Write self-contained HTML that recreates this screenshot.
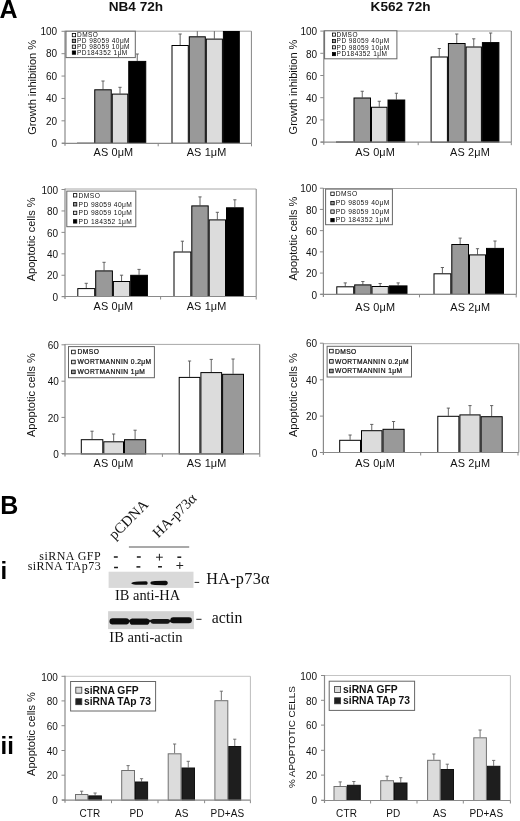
<!DOCTYPE html><html><head><meta charset="utf-8"><style>html,body{margin:0;padding:0;background:#fff;width:520px;height:821px;overflow:hidden;}svg{display:block;filter:blur(0.3px);}</style></head><body><svg width="520" height="821" viewBox="0 0 520 821" font-family='"Liberation Sans", sans-serif'>
<defs><filter id="bl" x="-20%" y="-50%" width="140%" height="200%"><feGaussianBlur stdDeviation="0.8"/></filter><filter id="bl2" x="-20%" y="-20%" width="140%" height="140%"><feGaussianBlur stdDeviation="0.5"/></filter></defs>
<rect width="520" height="821" fill="#fff"/>
<text x="-0.6" y="17.6" font-size="25" font-weight="bold" fill="#000">A</text>
<text x="135.9" y="11.1" font-size="13.6" font-weight="bold" text-anchor="middle" fill="#111">NB4 72h</text>
<text x="400.6" y="11.1" font-size="13.6" letter-spacing="0.05" font-weight="bold" text-anchor="middle" fill="#111">K562 72h</text>
<line x1="65" y1="31.2" x2="251.4" y2="31.2" stroke="#a8a8a8" stroke-width="1"/>
<line x1="251.4" y1="31.2" x2="251.4" y2="143.3" stroke="#848484" stroke-width="1"/>
<rect x="77.50" y="143.20" width="16.25" height="0.10" fill="#ffffff" stroke="#000" stroke-width="1"/>
<line x1="103.00" y1="89.30" x2="103.00" y2="81.00" stroke="#555555" stroke-width="0.9"/>
<line x1="101.40" y1="81.00" x2="104.60" y2="81.00" stroke="#555555" stroke-width="0.9"/>
<rect x="94.75" y="89.80" width="16.50" height="53.50" fill="#999999" stroke="#000" stroke-width="1"/>
<line x1="120.00" y1="93.60" x2="120.00" y2="87.30" stroke="#555555" stroke-width="0.9"/>
<line x1="118.40" y1="87.30" x2="121.60" y2="87.30" stroke="#555555" stroke-width="0.9"/>
<rect x="112.25" y="94.10" width="15.50" height="49.20" fill="#dcdcdc" stroke="#000" stroke-width="1"/>
<line x1="137.25" y1="60.90" x2="137.25" y2="54.00" stroke="#555555" stroke-width="0.9"/>
<line x1="135.65" y1="54.00" x2="138.85" y2="54.00" stroke="#555555" stroke-width="0.9"/>
<rect x="128.75" y="61.40" width="17.00" height="81.90" fill="#000000" stroke="#000" stroke-width="1"/>
<line x1="180.15" y1="45.00" x2="180.15" y2="34.00" stroke="#555555" stroke-width="0.9"/>
<line x1="178.55" y1="34.00" x2="181.75" y2="34.00" stroke="#555555" stroke-width="0.9"/>
<rect x="172.00" y="45.50" width="16.30" height="97.80" fill="#ffffff" stroke="#000" stroke-width="1"/>
<line x1="197.30" y1="36.30" x2="197.30" y2="31.20" stroke="#555555" stroke-width="0.9"/>
<rect x="189.30" y="36.80" width="16.00" height="106.50" fill="#999999" stroke="#000" stroke-width="1"/>
<line x1="214.35" y1="38.60" x2="214.35" y2="31.20" stroke="#555555" stroke-width="0.9"/>
<rect x="206.30" y="39.10" width="16.10" height="104.20" fill="#dcdcdc" stroke="#000" stroke-width="1"/>
<rect x="223.40" y="31.50" width="15.90" height="111.80" fill="#000000" stroke="#000" stroke-width="1"/>
<line x1="65" y1="30.7" x2="65" y2="145.8" stroke="#8a8a8a" stroke-width="1.2"/>
<line x1="62" y1="143.3" x2="251.4" y2="143.3" stroke="#8a8a8a" stroke-width="1.2"/>
<line x1="158.2" y1="143.3" x2="158.2" y2="146.3" stroke="#8a8a8a" stroke-width="1"/>
<line x1="251.5" y1="143.3" x2="251.5" y2="146.3" stroke="#8a8a8a" stroke-width="1"/>
<line x1="61.5" y1="31.30" x2="65" y2="31.30" stroke="#8a8a8a" stroke-width="1"/>
<text x="57.10" y="35.00" font-size="10" text-anchor="end" fill="#111" stroke="#111" stroke-width="0">100</text>
<line x1="61.5" y1="53.68" x2="65" y2="53.68" stroke="#8a8a8a" stroke-width="1"/>
<text x="57.10" y="57.38" font-size="10" text-anchor="end" fill="#111" stroke="#111" stroke-width="0">80</text>
<line x1="61.5" y1="76.06" x2="65" y2="76.06" stroke="#8a8a8a" stroke-width="1"/>
<text x="57.10" y="79.76" font-size="10" text-anchor="end" fill="#111" stroke="#111" stroke-width="0">60</text>
<line x1="61.5" y1="98.44" x2="65" y2="98.44" stroke="#8a8a8a" stroke-width="1"/>
<text x="57.10" y="102.14" font-size="10" text-anchor="end" fill="#111" stroke="#111" stroke-width="0">40</text>
<line x1="61.5" y1="120.82" x2="65" y2="120.82" stroke="#8a8a8a" stroke-width="1"/>
<text x="57.10" y="124.52" font-size="10" text-anchor="end" fill="#111" stroke="#111" stroke-width="0">20</text>
<line x1="61.5" y1="143.20" x2="65" y2="143.20" stroke="#8a8a8a" stroke-width="1"/>
<text x="57.10" y="146.90" font-size="10" text-anchor="end" fill="#111" stroke="#111" stroke-width="0">0</text>
<text transform="translate(35.7,87.3) rotate(-90) scale(1,1)" font-size="11" text-anchor="middle" fill="#111" stroke="#111" stroke-width="0">Growth inhibition %</text>
<text x="113.4" y="156.0" font-size="10.9" letter-spacing="0.15" text-anchor="middle" fill="#111" stroke="#111" stroke-width="0">AS 0μM</text>
<text x="206.6" y="156.0" font-size="10.9" letter-spacing="0.15" text-anchor="middle" fill="#111" stroke="#111" stroke-width="0">AS 1μM</text>
<rect x="66" y="31.2" width="69.30000000000001" height="26.400000000000002" fill="#fff" stroke="#666" stroke-width="1"/>
<rect x="72.30" y="33.45" width="3.3" height="3.3" fill="#ffffff" stroke="#000" stroke-width="0.8"/>
<text x="77" y="37.40" font-size="6.5" font-weight="normal" fill="#111" stroke="#111" stroke-width="0" letter-spacing="0.45">DMSO</text>
<rect x="72.30" y="39.25" width="3.3" height="3.3" fill="#999999" stroke="#000" stroke-width="0.8"/>
<text x="77" y="43.20" font-size="6.5" font-weight="normal" fill="#111" stroke="#111" stroke-width="0" letter-spacing="0.45">PD 98059 40μM</text>
<rect x="72.30" y="45.05" width="3.3" height="3.3" fill="#dcdcdc" stroke="#000" stroke-width="0.8"/>
<text x="77" y="49.00" font-size="6.5" font-weight="normal" fill="#111" stroke="#111" stroke-width="0" letter-spacing="0.45">PD 98059 10μM</text>
<rect x="72.30" y="50.95" width="3.3" height="3.3" fill="#000000" stroke="#000" stroke-width="0.8"/>
<text x="77" y="54.90" font-size="6.5" font-weight="normal" fill="#111" stroke="#111" stroke-width="0" letter-spacing="0.45">PD184352 1μM</text>
<line x1="323.8" y1="31" x2="511.3" y2="31" stroke="#a8a8a8" stroke-width="1"/>
<line x1="511.3" y1="31" x2="511.3" y2="142.2" stroke="#848484" stroke-width="1"/>
<rect x="336.50" y="142.00" width="16.50" height="0.20" fill="#ffffff" stroke="#000" stroke-width="1"/>
<line x1="362.25" y1="97.50" x2="362.25" y2="91.25" stroke="#555555" stroke-width="0.9"/>
<line x1="360.65" y1="91.25" x2="363.85" y2="91.25" stroke="#555555" stroke-width="0.9"/>
<rect x="354.00" y="98.00" width="16.50" height="44.20" fill="#999999" stroke="#000" stroke-width="1"/>
<line x1="379.25" y1="106.75" x2="379.25" y2="101.25" stroke="#555555" stroke-width="0.9"/>
<line x1="377.65" y1="101.25" x2="380.85" y2="101.25" stroke="#555555" stroke-width="0.9"/>
<rect x="371.50" y="107.25" width="15.50" height="34.95" fill="#dcdcdc" stroke="#000" stroke-width="1"/>
<line x1="396.38" y1="99.50" x2="396.38" y2="93.25" stroke="#555555" stroke-width="0.9"/>
<line x1="394.77" y1="93.25" x2="397.98" y2="93.25" stroke="#555555" stroke-width="0.9"/>
<rect x="388.00" y="100.00" width="16.75" height="42.20" fill="#000000" stroke="#000" stroke-width="1"/>
<line x1="439.25" y1="56.50" x2="439.25" y2="48.50" stroke="#555555" stroke-width="0.9"/>
<line x1="437.65" y1="48.50" x2="440.85" y2="48.50" stroke="#555555" stroke-width="0.9"/>
<rect x="431.10" y="57.00" width="16.30" height="85.20" fill="#ffffff" stroke="#000" stroke-width="1"/>
<line x1="456.75" y1="43.00" x2="456.75" y2="34.00" stroke="#555555" stroke-width="0.9"/>
<line x1="455.15" y1="34.00" x2="458.35" y2="34.00" stroke="#555555" stroke-width="0.9"/>
<rect x="448.40" y="43.50" width="16.70" height="98.70" fill="#999999" stroke="#000" stroke-width="1"/>
<line x1="473.75" y1="46.50" x2="473.75" y2="38.80" stroke="#555555" stroke-width="0.9"/>
<line x1="472.15" y1="38.80" x2="475.35" y2="38.80" stroke="#555555" stroke-width="0.9"/>
<rect x="466.10" y="47.00" width="15.30" height="95.20" fill="#dcdcdc" stroke="#000" stroke-width="1"/>
<line x1="490.65" y1="42.10" x2="490.65" y2="33.00" stroke="#555555" stroke-width="0.9"/>
<line x1="489.05" y1="33.00" x2="492.25" y2="33.00" stroke="#555555" stroke-width="0.9"/>
<rect x="482.40" y="42.60" width="16.50" height="99.60" fill="#000000" stroke="#000" stroke-width="1"/>
<line x1="323.8" y1="30.5" x2="323.8" y2="144.7" stroke="#8a8a8a" stroke-width="1.2"/>
<line x1="320.8" y1="142.2" x2="511.3" y2="142.2" stroke="#8a8a8a" stroke-width="1.2"/>
<line x1="418.2" y1="142.2" x2="418.2" y2="145.2" stroke="#8a8a8a" stroke-width="1"/>
<line x1="511.3" y1="142.2" x2="511.3" y2="145.2" stroke="#8a8a8a" stroke-width="1"/>
<line x1="320.3" y1="31.10" x2="323.8" y2="31.10" stroke="#8a8a8a" stroke-width="1"/>
<text x="317.20" y="35.30" font-size="10" text-anchor="end" fill="#111" stroke="#111" stroke-width="0">100</text>
<line x1="320.3" y1="53.30" x2="323.8" y2="53.30" stroke="#8a8a8a" stroke-width="1"/>
<text x="317.20" y="57.50" font-size="10" text-anchor="end" fill="#111" stroke="#111" stroke-width="0">80</text>
<line x1="320.3" y1="75.50" x2="323.8" y2="75.50" stroke="#8a8a8a" stroke-width="1"/>
<text x="317.20" y="79.70" font-size="10" text-anchor="end" fill="#111" stroke="#111" stroke-width="0">60</text>
<line x1="320.3" y1="97.70" x2="323.8" y2="97.70" stroke="#8a8a8a" stroke-width="1"/>
<text x="317.20" y="101.90" font-size="10" text-anchor="end" fill="#111" stroke="#111" stroke-width="0">40</text>
<line x1="320.3" y1="119.90" x2="323.8" y2="119.90" stroke="#8a8a8a" stroke-width="1"/>
<text x="317.20" y="124.10" font-size="10" text-anchor="end" fill="#111" stroke="#111" stroke-width="0">20</text>
<line x1="320.3" y1="142.10" x2="323.8" y2="142.10" stroke="#8a8a8a" stroke-width="1"/>
<text x="317.20" y="146.30" font-size="10" text-anchor="end" fill="#111" stroke="#111" stroke-width="0">0</text>
<text transform="translate(297,87.0) rotate(-90) scale(1,1)" font-size="11" text-anchor="middle" fill="#111" stroke="#111" stroke-width="0">Growth inhibition %</text>
<text x="375.1" y="156.0" font-size="10.9" letter-spacing="0.15" text-anchor="middle" fill="#111" stroke="#111" stroke-width="0">AS 0μM</text>
<text x="470.0" y="156.0" font-size="10.9" letter-spacing="0.15" text-anchor="middle" fill="#111" stroke="#111" stroke-width="0">AS 2μM</text>
<rect x="324.6" y="30.8" width="72.29999999999995" height="27.999999999999996" fill="#fff" stroke="#666" stroke-width="1"/>
<rect x="332.40" y="33.05" width="3.1" height="3.1" fill="#ffffff" stroke="#000" stroke-width="0.8"/>
<text x="336.6" y="36.90" font-size="6.5" font-weight="normal" fill="#111" stroke="#111" stroke-width="0" letter-spacing="0.45">DMSO</text>
<rect x="332.40" y="39.55" width="3.1" height="3.1" fill="#999999" stroke="#000" stroke-width="0.8"/>
<text x="336.6" y="43.40" font-size="6.5" font-weight="normal" fill="#111" stroke="#111" stroke-width="0" letter-spacing="0.45">PD 98059 40μM</text>
<rect x="332.40" y="45.75" width="3.1" height="3.1" fill="#dcdcdc" stroke="#000" stroke-width="0.8"/>
<text x="336.6" y="49.60" font-size="6.5" font-weight="normal" fill="#111" stroke="#111" stroke-width="0" letter-spacing="0.45">PD 98059 10μM</text>
<rect x="332.40" y="52.55" width="3.1" height="3.1" fill="#000000" stroke="#000" stroke-width="0.8"/>
<text x="336.6" y="56.40" font-size="6.5" font-weight="normal" fill="#111" stroke="#111" stroke-width="0" letter-spacing="0.45">PD184352 1μM</text>
<line x1="65" y1="189" x2="256.2" y2="189" stroke="#a8a8a8" stroke-width="1"/>
<line x1="256.2" y1="189" x2="256.2" y2="296.5" stroke="#848484" stroke-width="1"/>
<line x1="86.25" y1="288.10" x2="86.25" y2="283.30" stroke="#555555" stroke-width="0.9"/>
<line x1="84.65" y1="283.30" x2="87.85" y2="283.30" stroke="#555555" stroke-width="0.9"/>
<rect x="77.80" y="288.60" width="16.90" height="7.90" fill="#ffffff" stroke="#000" stroke-width="1"/>
<line x1="104.05" y1="270.40" x2="104.05" y2="262.30" stroke="#555555" stroke-width="0.9"/>
<line x1="102.45" y1="262.30" x2="105.65" y2="262.30" stroke="#555555" stroke-width="0.9"/>
<rect x="95.70" y="270.90" width="16.70" height="25.60" fill="#999999" stroke="#000" stroke-width="1"/>
<line x1="121.55" y1="281.00" x2="121.55" y2="275.20" stroke="#555555" stroke-width="0.9"/>
<line x1="119.95" y1="275.20" x2="123.15" y2="275.20" stroke="#555555" stroke-width="0.9"/>
<rect x="113.40" y="281.50" width="16.30" height="15.00" fill="#dcdcdc" stroke="#000" stroke-width="1"/>
<line x1="139.05" y1="274.80" x2="139.05" y2="269.40" stroke="#555555" stroke-width="0.9"/>
<line x1="137.45" y1="269.40" x2="140.65" y2="269.40" stroke="#555555" stroke-width="0.9"/>
<rect x="130.70" y="275.30" width="16.70" height="21.20" fill="#000000" stroke="#000" stroke-width="1"/>
<line x1="182.40" y1="251.50" x2="182.40" y2="241.20" stroke="#555555" stroke-width="0.9"/>
<line x1="180.80" y1="241.20" x2="184.00" y2="241.20" stroke="#555555" stroke-width="0.9"/>
<rect x="174.00" y="252.00" width="16.80" height="44.50" fill="#ffffff" stroke="#000" stroke-width="1"/>
<line x1="200.00" y1="205.40" x2="200.00" y2="196.90" stroke="#555555" stroke-width="0.9"/>
<line x1="198.40" y1="196.90" x2="201.60" y2="196.90" stroke="#555555" stroke-width="0.9"/>
<rect x="191.80" y="205.90" width="16.40" height="90.60" fill="#999999" stroke="#000" stroke-width="1"/>
<line x1="217.35" y1="219.40" x2="217.35" y2="212.30" stroke="#555555" stroke-width="0.9"/>
<line x1="215.75" y1="212.30" x2="218.95" y2="212.30" stroke="#555555" stroke-width="0.9"/>
<rect x="209.20" y="219.90" width="16.30" height="76.60" fill="#dcdcdc" stroke="#000" stroke-width="1"/>
<line x1="234.85" y1="207.30" x2="234.85" y2="199.80" stroke="#555555" stroke-width="0.9"/>
<line x1="233.25" y1="199.80" x2="236.45" y2="199.80" stroke="#555555" stroke-width="0.9"/>
<rect x="226.50" y="207.80" width="16.70" height="88.70" fill="#000000" stroke="#000" stroke-width="1"/>
<line x1="65" y1="188.5" x2="65" y2="299.0" stroke="#8a8a8a" stroke-width="1.2"/>
<line x1="62" y1="296.5" x2="256.2" y2="296.5" stroke="#8a8a8a" stroke-width="1.2"/>
<line x1="160.6" y1="296.5" x2="160.6" y2="299.5" stroke="#8a8a8a" stroke-width="1"/>
<line x1="256.2" y1="296.5" x2="256.2" y2="299.5" stroke="#8a8a8a" stroke-width="1"/>
<line x1="61.5" y1="189.50" x2="65" y2="189.50" stroke="#8a8a8a" stroke-width="1"/>
<text x="58.10" y="193.70" font-size="10" text-anchor="end" fill="#111" stroke="#111" stroke-width="0">100</text>
<line x1="61.5" y1="210.94" x2="65" y2="210.94" stroke="#8a8a8a" stroke-width="1"/>
<text x="58.10" y="215.14" font-size="10" text-anchor="end" fill="#111" stroke="#111" stroke-width="0">80</text>
<line x1="61.5" y1="232.38" x2="65" y2="232.38" stroke="#8a8a8a" stroke-width="1"/>
<text x="58.10" y="236.58" font-size="10" text-anchor="end" fill="#111" stroke="#111" stroke-width="0">60</text>
<line x1="61.5" y1="253.82" x2="65" y2="253.82" stroke="#8a8a8a" stroke-width="1"/>
<text x="58.10" y="258.02" font-size="10" text-anchor="end" fill="#111" stroke="#111" stroke-width="0">40</text>
<line x1="61.5" y1="275.26" x2="65" y2="275.26" stroke="#8a8a8a" stroke-width="1"/>
<text x="58.10" y="279.46" font-size="10" text-anchor="end" fill="#111" stroke="#111" stroke-width="0">20</text>
<line x1="61.5" y1="296.70" x2="65" y2="296.70" stroke="#8a8a8a" stroke-width="1"/>
<text x="58.10" y="300.90" font-size="10" text-anchor="end" fill="#111" stroke="#111" stroke-width="0">0</text>
<text transform="translate(35.2,239.4) rotate(-90) scale(1,1)" font-size="11" text-anchor="middle" fill="#111" stroke="#111" stroke-width="0">Apoptotic cells %</text>
<text x="113.4" y="310.4" font-size="10.9" letter-spacing="0.15" text-anchor="middle" fill="#111" stroke="#111" stroke-width="0">AS 0μM</text>
<text x="206.6" y="310.4" font-size="10.9" letter-spacing="0.15" text-anchor="middle" fill="#111" stroke="#111" stroke-width="0">AS 1μM</text>
<rect x="66.8" y="191.1" width="69.00000000000001" height="35.599999999999994" fill="#fff" stroke="#666" stroke-width="1"/>
<rect x="73.40" y="193.60" width="3.4" height="3.4" fill="#ffffff" stroke="#000" stroke-width="0.8"/>
<text x="78.6" y="197.60" font-size="6.7" font-weight="normal" fill="#111" stroke="#111" stroke-width="0" letter-spacing="0.4">DMSO</text>
<rect x="73.40" y="202.60" width="3.4" height="3.4" fill="#999999" stroke="#000" stroke-width="0.8"/>
<text x="78.6" y="206.60" font-size="6.7" font-weight="normal" fill="#111" stroke="#111" stroke-width="0" letter-spacing="0.4">PD 98059 40μM</text>
<rect x="73.40" y="211.20" width="3.4" height="3.4" fill="#dcdcdc" stroke="#000" stroke-width="0.8"/>
<text x="78.6" y="215.20" font-size="6.7" font-weight="normal" fill="#111" stroke="#111" stroke-width="0" letter-spacing="0.4">PD 98059 10μM</text>
<rect x="73.40" y="219.70" width="3.4" height="3.4" fill="#000000" stroke="#000" stroke-width="0.8"/>
<text x="78.6" y="223.70" font-size="6.7" font-weight="normal" fill="#111" stroke="#111" stroke-width="0" letter-spacing="0.4">PD 184352 1μM</text>
<line x1="323.4" y1="188.5" x2="516.4" y2="188.5" stroke="#a8a8a8" stroke-width="1"/>
<line x1="516.4" y1="188.5" x2="516.4" y2="294.4" stroke="#848484" stroke-width="1"/>
<line x1="345.25" y1="286.30" x2="345.25" y2="282.90" stroke="#555555" stroke-width="0.9"/>
<line x1="343.65" y1="282.90" x2="346.85" y2="282.90" stroke="#555555" stroke-width="0.9"/>
<rect x="336.80" y="286.80" width="16.90" height="7.60" fill="#ffffff" stroke="#000" stroke-width="1"/>
<line x1="362.85" y1="284.40" x2="362.85" y2="281.50" stroke="#555555" stroke-width="0.9"/>
<line x1="361.25" y1="281.50" x2="364.45" y2="281.50" stroke="#555555" stroke-width="0.9"/>
<rect x="354.70" y="284.90" width="16.30" height="9.50" fill="#999999" stroke="#000" stroke-width="1"/>
<line x1="380.15" y1="286.00" x2="380.15" y2="283.50" stroke="#555555" stroke-width="0.9"/>
<line x1="378.55" y1="283.50" x2="381.75" y2="283.50" stroke="#555555" stroke-width="0.9"/>
<rect x="372.00" y="286.50" width="16.30" height="7.90" fill="#dcdcdc" stroke="#000" stroke-width="1"/>
<line x1="398.15" y1="285.40" x2="398.15" y2="282.90" stroke="#555555" stroke-width="0.9"/>
<line x1="396.55" y1="282.90" x2="399.75" y2="282.90" stroke="#555555" stroke-width="0.9"/>
<rect x="389.30" y="285.90" width="17.70" height="8.50" fill="#000000" stroke="#000" stroke-width="1"/>
<line x1="442.40" y1="273.30" x2="442.40" y2="267.50" stroke="#555555" stroke-width="0.9"/>
<line x1="440.80" y1="267.50" x2="444.00" y2="267.50" stroke="#555555" stroke-width="0.9"/>
<rect x="434.00" y="273.80" width="16.80" height="20.60" fill="#ffffff" stroke="#000" stroke-width="1"/>
<line x1="460.15" y1="244.00" x2="460.15" y2="238.10" stroke="#555555" stroke-width="0.9"/>
<line x1="458.55" y1="238.10" x2="461.75" y2="238.10" stroke="#555555" stroke-width="0.9"/>
<rect x="451.80" y="244.50" width="16.70" height="49.90" fill="#999999" stroke="#000" stroke-width="1"/>
<line x1="477.50" y1="254.40" x2="477.50" y2="248.70" stroke="#555555" stroke-width="0.9"/>
<line x1="475.90" y1="248.70" x2="479.10" y2="248.70" stroke="#555555" stroke-width="0.9"/>
<rect x="469.50" y="254.90" width="16.00" height="39.50" fill="#dcdcdc" stroke="#000" stroke-width="1"/>
<line x1="495.00" y1="247.90" x2="495.00" y2="241.00" stroke="#555555" stroke-width="0.9"/>
<line x1="493.40" y1="241.00" x2="496.60" y2="241.00" stroke="#555555" stroke-width="0.9"/>
<rect x="486.50" y="248.40" width="17.00" height="46.00" fill="#000000" stroke="#000" stroke-width="1"/>
<line x1="323.4" y1="188.0" x2="323.4" y2="296.9" stroke="#8a8a8a" stroke-width="1.2"/>
<line x1="320.4" y1="294.4" x2="516.4" y2="294.4" stroke="#8a8a8a" stroke-width="1.2"/>
<line x1="419.5" y1="294.4" x2="419.5" y2="297.4" stroke="#8a8a8a" stroke-width="1"/>
<line x1="516.2" y1="294.4" x2="516.2" y2="297.4" stroke="#8a8a8a" stroke-width="1"/>
<line x1="319.9" y1="188.20" x2="323.4" y2="188.20" stroke="#8a8a8a" stroke-width="1"/>
<text x="317.00" y="192.40" font-size="10" text-anchor="end" fill="#111" stroke="#111" stroke-width="0">100</text>
<line x1="319.9" y1="209.42" x2="323.4" y2="209.42" stroke="#8a8a8a" stroke-width="1"/>
<text x="317.00" y="213.62" font-size="10" text-anchor="end" fill="#111" stroke="#111" stroke-width="0">80</text>
<line x1="319.9" y1="230.64" x2="323.4" y2="230.64" stroke="#8a8a8a" stroke-width="1"/>
<text x="317.00" y="234.84" font-size="10" text-anchor="end" fill="#111" stroke="#111" stroke-width="0">60</text>
<line x1="319.9" y1="251.86" x2="323.4" y2="251.86" stroke="#8a8a8a" stroke-width="1"/>
<text x="317.00" y="256.06" font-size="10" text-anchor="end" fill="#111" stroke="#111" stroke-width="0">40</text>
<line x1="319.9" y1="273.08" x2="323.4" y2="273.08" stroke="#8a8a8a" stroke-width="1"/>
<text x="317.00" y="277.28" font-size="10" text-anchor="end" fill="#111" stroke="#111" stroke-width="0">20</text>
<line x1="319.9" y1="294.30" x2="323.4" y2="294.30" stroke="#8a8a8a" stroke-width="1"/>
<text x="317.00" y="298.50" font-size="10" text-anchor="end" fill="#111" stroke="#111" stroke-width="0">0</text>
<text transform="translate(297,238.6) rotate(-90) scale(1,1)" font-size="11" text-anchor="middle" fill="#111" stroke="#111" stroke-width="0">Apoptotic cells %</text>
<text x="375.3" y="310.8" font-size="10.9" letter-spacing="0.15" text-anchor="middle" fill="#111" stroke="#111" stroke-width="0">AS 0μM</text>
<text x="470.3" y="310.8" font-size="10.9" letter-spacing="0.15" text-anchor="middle" fill="#111" stroke="#111" stroke-width="0">AS 2μM</text>
<rect x="325.6" y="189.1" width="66.79999999999995" height="35.599999999999994" fill="#fff" stroke="#666" stroke-width="1"/>
<rect x="330.80" y="192.10" width="3.4" height="3.4" fill="#ffffff" stroke="#000" stroke-width="0.8"/>
<text x="335.8" y="196.10" font-size="6.7" font-weight="normal" fill="#111" stroke="#111" stroke-width="0" letter-spacing="0.42">DMSO</text>
<rect x="330.80" y="201.40" width="3.4" height="3.4" fill="#999999" stroke="#000" stroke-width="0.8"/>
<text x="335.8" y="205.40" font-size="6.7" font-weight="normal" fill="#111" stroke="#111" stroke-width="0" letter-spacing="0.42">PD 98059 40μM</text>
<rect x="330.80" y="209.90" width="3.4" height="3.4" fill="#dcdcdc" stroke="#000" stroke-width="0.8"/>
<text x="335.8" y="213.90" font-size="6.7" font-weight="normal" fill="#111" stroke="#111" stroke-width="0" letter-spacing="0.42">PD 98059 10μM</text>
<rect x="330.80" y="218.40" width="3.4" height="3.4" fill="#000000" stroke="#000" stroke-width="0.8"/>
<text x="335.8" y="222.40" font-size="6.7" font-weight="normal" fill="#111" stroke="#111" stroke-width="0" letter-spacing="0.42">PD 184352 1μM</text>
<line x1="65" y1="344.4" x2="259.7" y2="344.4" stroke="#a8a8a8" stroke-width="1"/>
<line x1="259.7" y1="344.4" x2="259.7" y2="453.9" stroke="#727272" stroke-width="1"/>
<line x1="92.05" y1="439.20" x2="92.05" y2="431.20" stroke="#555555" stroke-width="0.9"/>
<line x1="90.45" y1="431.20" x2="93.65" y2="431.20" stroke="#555555" stroke-width="0.9"/>
<rect x="81.30" y="439.70" width="21.50" height="14.20" fill="#ffffff" stroke="#000" stroke-width="1"/>
<line x1="113.65" y1="441.30" x2="113.65" y2="434.00" stroke="#555555" stroke-width="0.9"/>
<line x1="112.05" y1="434.00" x2="115.25" y2="434.00" stroke="#555555" stroke-width="0.9"/>
<rect x="103.80" y="441.80" width="19.70" height="12.10" fill="#dcdcdc" stroke="#000" stroke-width="1"/>
<line x1="135.10" y1="439.20" x2="135.10" y2="430.20" stroke="#555555" stroke-width="0.9"/>
<line x1="133.50" y1="430.20" x2="136.70" y2="430.20" stroke="#555555" stroke-width="0.9"/>
<rect x="124.50" y="439.70" width="21.20" height="14.20" fill="#999999" stroke="#000" stroke-width="1"/>
<line x1="189.55" y1="376.90" x2="189.55" y2="361.00" stroke="#555555" stroke-width="0.9"/>
<line x1="187.95" y1="361.00" x2="191.15" y2="361.00" stroke="#555555" stroke-width="0.9"/>
<rect x="179.20" y="377.40" width="20.70" height="76.50" fill="#ffffff" stroke="#000" stroke-width="1"/>
<line x1="211.25" y1="372.10" x2="211.25" y2="359.40" stroke="#555555" stroke-width="0.9"/>
<line x1="209.65" y1="359.40" x2="212.85" y2="359.40" stroke="#555555" stroke-width="0.9"/>
<rect x="200.90" y="372.60" width="20.70" height="81.30" fill="#dcdcdc" stroke="#000" stroke-width="1"/>
<line x1="233.05" y1="373.80" x2="233.05" y2="359.00" stroke="#555555" stroke-width="0.9"/>
<line x1="231.45" y1="359.00" x2="234.65" y2="359.00" stroke="#555555" stroke-width="0.9"/>
<rect x="222.60" y="374.30" width="20.90" height="79.60" fill="#999999" stroke="#000" stroke-width="1"/>
<line x1="65" y1="343.9" x2="65" y2="456.4" stroke="#8a8a8a" stroke-width="1.2"/>
<line x1="62" y1="453.9" x2="259.7" y2="453.9" stroke="#8a8a8a" stroke-width="1.2"/>
<line x1="162.4" y1="453.9" x2="162.4" y2="456.9" stroke="#8a8a8a" stroke-width="1"/>
<line x1="259.8" y1="453.9" x2="259.8" y2="456.9" stroke="#8a8a8a" stroke-width="1"/>
<line x1="61.5" y1="344.80" x2="65" y2="344.80" stroke="#8a8a8a" stroke-width="1"/>
<text x="58.90" y="349.00" font-size="10" text-anchor="end" fill="#111" stroke="#111" stroke-width="0">60</text>
<line x1="61.5" y1="381.20" x2="65" y2="381.20" stroke="#8a8a8a" stroke-width="1"/>
<text x="58.90" y="385.40" font-size="10" text-anchor="end" fill="#111" stroke="#111" stroke-width="0">40</text>
<line x1="61.5" y1="417.40" x2="65" y2="417.40" stroke="#8a8a8a" stroke-width="1"/>
<text x="58.90" y="421.60" font-size="10" text-anchor="end" fill="#111" stroke="#111" stroke-width="0">20</text>
<line x1="61.5" y1="453.50" x2="65" y2="453.50" stroke="#8a8a8a" stroke-width="1"/>
<text x="58.90" y="457.70" font-size="10" text-anchor="end" fill="#111" stroke="#111" stroke-width="0">0</text>
<text transform="translate(35.3,395.1) rotate(-90) scale(1,1)" font-size="11" text-anchor="middle" fill="#111" stroke="#111" stroke-width="0">Apoptotic cells %</text>
<text x="113.5" y="466.6" font-size="10.9" letter-spacing="0.15" text-anchor="middle" fill="#111" stroke="#111" stroke-width="0">AS 0μM</text>
<text x="206.6" y="466.6" font-size="10.9" letter-spacing="0.15" text-anchor="middle" fill="#111" stroke="#111" stroke-width="0">AS 1μM</text>
<rect x="68.5" y="346.6" width="85.9" height="31.099999999999966" fill="#fff" stroke="#666" stroke-width="1"/>
<rect x="71.60" y="350.20" width="3.6" height="3.6" fill="#ffffff" stroke="#000" stroke-width="0.8"/>
<text x="77.6" y="354.40" font-size="6.7" font-weight="normal" fill="#111" stroke="#111" stroke-width="0.22" letter-spacing="0.42">DMSO</text>
<rect x="71.60" y="360.20" width="3.6" height="3.6" fill="#dcdcdc" stroke="#000" stroke-width="0.8"/>
<text x="77.6" y="364.40" font-size="6.7" font-weight="normal" fill="#111" stroke="#111" stroke-width="0.22" letter-spacing="0.42">WORTMANNIN 0.2μM</text>
<rect x="71.60" y="370.10" width="3.6" height="3.6" fill="#999999" stroke="#000" stroke-width="0.8"/>
<text x="77.6" y="374.30" font-size="6.7" font-weight="normal" fill="#111" stroke="#111" stroke-width="0.22" letter-spacing="0.42">WORTMANNIN 1μM</text>
<line x1="323.4" y1="343.7" x2="518.8" y2="343.7" stroke="#a8a8a8" stroke-width="1"/>
<line x1="518.8" y1="343.7" x2="518.8" y2="452.5" stroke="#848484" stroke-width="1"/>
<line x1="350.10" y1="439.80" x2="350.10" y2="435.00" stroke="#555555" stroke-width="0.9"/>
<line x1="348.50" y1="435.00" x2="351.70" y2="435.00" stroke="#555555" stroke-width="0.9"/>
<rect x="339.70" y="440.30" width="20.80" height="12.20" fill="#ffffff" stroke="#000" stroke-width="1"/>
<line x1="371.75" y1="430.20" x2="371.75" y2="424.40" stroke="#555555" stroke-width="0.9"/>
<line x1="370.15" y1="424.40" x2="373.35" y2="424.40" stroke="#555555" stroke-width="0.9"/>
<rect x="361.50" y="430.70" width="20.50" height="21.80" fill="#dcdcdc" stroke="#000" stroke-width="1"/>
<line x1="393.55" y1="428.80" x2="393.55" y2="421.50" stroke="#555555" stroke-width="0.9"/>
<line x1="391.95" y1="421.50" x2="395.15" y2="421.50" stroke="#555555" stroke-width="0.9"/>
<rect x="383.00" y="429.30" width="21.10" height="23.20" fill="#999999" stroke="#000" stroke-width="1"/>
<line x1="448.35" y1="415.80" x2="448.35" y2="408.10" stroke="#555555" stroke-width="0.9"/>
<line x1="446.75" y1="408.10" x2="449.95" y2="408.10" stroke="#555555" stroke-width="0.9"/>
<rect x="437.80" y="416.30" width="21.10" height="36.20" fill="#ffffff" stroke="#000" stroke-width="1"/>
<line x1="470.00" y1="414.40" x2="470.00" y2="405.60" stroke="#555555" stroke-width="0.9"/>
<line x1="468.40" y1="405.60" x2="471.60" y2="405.60" stroke="#555555" stroke-width="0.9"/>
<rect x="459.90" y="414.90" width="20.20" height="37.60" fill="#dcdcdc" stroke="#000" stroke-width="1"/>
<line x1="491.65" y1="416.20" x2="491.65" y2="405.60" stroke="#555555" stroke-width="0.9"/>
<line x1="490.05" y1="405.60" x2="493.25" y2="405.60" stroke="#555555" stroke-width="0.9"/>
<rect x="481.10" y="416.70" width="21.10" height="35.80" fill="#999999" stroke="#000" stroke-width="1"/>
<line x1="323.4" y1="343.2" x2="323.4" y2="455.0" stroke="#8a8a8a" stroke-width="1.2"/>
<line x1="320.4" y1="452.5" x2="518.8" y2="452.5" stroke="#8a8a8a" stroke-width="1.2"/>
<line x1="420.7" y1="452.5" x2="420.7" y2="455.5" stroke="#8a8a8a" stroke-width="1"/>
<line x1="518" y1="452.5" x2="518" y2="455.5" stroke="#8a8a8a" stroke-width="1"/>
<line x1="319.9" y1="343.20" x2="323.4" y2="343.20" stroke="#8a8a8a" stroke-width="1"/>
<text x="317.20" y="347.40" font-size="10" text-anchor="end" fill="#111" stroke="#111" stroke-width="0">60</text>
<line x1="319.9" y1="379.80" x2="323.4" y2="379.80" stroke="#8a8a8a" stroke-width="1"/>
<text x="317.20" y="384.00" font-size="10" text-anchor="end" fill="#111" stroke="#111" stroke-width="0">40</text>
<line x1="319.9" y1="416.10" x2="323.4" y2="416.10" stroke="#8a8a8a" stroke-width="1"/>
<text x="317.20" y="420.30" font-size="10" text-anchor="end" fill="#111" stroke="#111" stroke-width="0">20</text>
<line x1="319.9" y1="452.50" x2="323.4" y2="452.50" stroke="#8a8a8a" stroke-width="1"/>
<text x="317.20" y="456.70" font-size="10" text-anchor="end" fill="#111" stroke="#111" stroke-width="0">0</text>
<text transform="translate(297,395.1) rotate(-90) scale(1,1)" font-size="11" text-anchor="middle" fill="#111" stroke="#111" stroke-width="0">Apoptotic cells %</text>
<text x="375.1" y="466.9" font-size="10.9" letter-spacing="0.15" text-anchor="middle" fill="#111" stroke="#111" stroke-width="0">AS 0μM</text>
<text x="470.3" y="466.9" font-size="10.9" letter-spacing="0.15" text-anchor="middle" fill="#111" stroke="#111" stroke-width="0">AS 2μM</text>
<rect x="327.1" y="346.3" width="84.39999999999998" height="30.69999999999999" fill="#fff" stroke="#666" stroke-width="1"/>
<rect x="329.60" y="349.30" width="3.6" height="3.6" fill="#ffffff" stroke="#000" stroke-width="0.8"/>
<text x="335" y="353.50" font-size="6.7" font-weight="normal" fill="#111" stroke="#111" stroke-width="0.22" letter-spacing="0.42">DMSO</text>
<rect x="329.60" y="359.60" width="3.6" height="3.6" fill="#dcdcdc" stroke="#000" stroke-width="0.8"/>
<text x="335" y="363.80" font-size="6.7" font-weight="normal" fill="#111" stroke="#111" stroke-width="0.22" letter-spacing="0.42">WORTMANNIN 0.2μM</text>
<rect x="329.60" y="369.20" width="3.6" height="3.6" fill="#999999" stroke="#000" stroke-width="0.8"/>
<text x="335" y="373.40" font-size="6.7" font-weight="normal" fill="#111" stroke="#111" stroke-width="0.22" letter-spacing="0.42">WORTMANNIN 1μM</text>
<line x1="65" y1="676.3" x2="250.4" y2="676.3" stroke="#c4c4c4" stroke-width="1"/>
<line x1="250.4" y1="676.3" x2="250.4" y2="800.2" stroke="#bcbcbc" stroke-width="1"/>
<line x1="81.65" y1="794.00" x2="81.65" y2="791.20" stroke="#666" stroke-width="0.9"/>
<line x1="80.05" y1="791.20" x2="83.25" y2="791.20" stroke="#666" stroke-width="0.9"/>
<rect x="75.50" y="794.50" width="12.30" height="5.70" fill="#dcdcdc" stroke="#707070" stroke-width="1"/>
<line x1="95.10" y1="795.40" x2="95.10" y2="793.00" stroke="#666" stroke-width="0.9"/>
<line x1="93.50" y1="793.00" x2="96.70" y2="793.00" stroke="#666" stroke-width="0.9"/>
<rect x="88.80" y="795.90" width="12.60" height="4.30" fill="#1e1e1e" stroke="#111" stroke-width="1"/>
<line x1="128.10" y1="770.00" x2="128.10" y2="765.60" stroke="#666" stroke-width="0.9"/>
<line x1="126.50" y1="765.60" x2="129.70" y2="765.60" stroke="#666" stroke-width="0.9"/>
<rect x="121.70" y="770.50" width="12.80" height="29.70" fill="#dcdcdc" stroke="#707070" stroke-width="1"/>
<line x1="141.55" y1="781.50" x2="141.55" y2="778.70" stroke="#666" stroke-width="0.9"/>
<line x1="139.95" y1="778.70" x2="143.15" y2="778.70" stroke="#666" stroke-width="0.9"/>
<rect x="135.50" y="782.00" width="12.10" height="18.20" fill="#1e1e1e" stroke="#111" stroke-width="1"/>
<line x1="174.60" y1="753.30" x2="174.60" y2="744.00" stroke="#666" stroke-width="0.9"/>
<line x1="173.00" y1="744.00" x2="176.20" y2="744.00" stroke="#666" stroke-width="0.9"/>
<rect x="168.20" y="753.80" width="12.80" height="46.40" fill="#dcdcdc" stroke="#707070" stroke-width="1"/>
<line x1="188.25" y1="767.50" x2="188.25" y2="761.30" stroke="#666" stroke-width="0.9"/>
<line x1="186.65" y1="761.30" x2="189.85" y2="761.30" stroke="#666" stroke-width="0.9"/>
<rect x="182.00" y="768.00" width="12.50" height="32.20" fill="#1e1e1e" stroke="#111" stroke-width="1"/>
<line x1="221.35" y1="700.20" x2="221.35" y2="691.20" stroke="#666" stroke-width="0.9"/>
<line x1="219.75" y1="691.20" x2="222.95" y2="691.20" stroke="#666" stroke-width="0.9"/>
<rect x="214.90" y="700.70" width="12.90" height="99.50" fill="#dcdcdc" stroke="#707070" stroke-width="1"/>
<line x1="234.75" y1="746.00" x2="234.75" y2="739.20" stroke="#666" stroke-width="0.9"/>
<line x1="233.15" y1="739.20" x2="236.35" y2="739.20" stroke="#666" stroke-width="0.9"/>
<rect x="228.80" y="746.50" width="11.90" height="53.70" fill="#1e1e1e" stroke="#111" stroke-width="1"/>
<line x1="65" y1="675.8" x2="65" y2="802.7" stroke="#8a8a8a" stroke-width="1.2"/>
<line x1="62" y1="800.2" x2="250.4" y2="800.2" stroke="#8a8a8a" stroke-width="1.2"/>
<line x1="111.5" y1="800.2" x2="111.5" y2="803.2" stroke="#8a8a8a" stroke-width="1"/>
<line x1="158" y1="800.2" x2="158" y2="803.2" stroke="#8a8a8a" stroke-width="1"/>
<line x1="204.6" y1="800.2" x2="204.6" y2="803.2" stroke="#8a8a8a" stroke-width="1"/>
<line x1="250.4" y1="800.2" x2="250.4" y2="803.2" stroke="#8a8a8a" stroke-width="1"/>
<line x1="61.5" y1="676.30" x2="65" y2="676.30" stroke="#8a8a8a" stroke-width="1"/>
<text x="57.90" y="680.50" font-size="10" text-anchor="end" fill="#111" stroke="#111" stroke-width="0">100</text>
<line x1="61.5" y1="700.90" x2="65" y2="700.90" stroke="#8a8a8a" stroke-width="1"/>
<text x="57.90" y="705.10" font-size="10" text-anchor="end" fill="#111" stroke="#111" stroke-width="0">80</text>
<line x1="61.5" y1="725.70" x2="65" y2="725.70" stroke="#8a8a8a" stroke-width="1"/>
<text x="57.90" y="729.90" font-size="10" text-anchor="end" fill="#111" stroke="#111" stroke-width="0">60</text>
<line x1="61.5" y1="750.50" x2="65" y2="750.50" stroke="#8a8a8a" stroke-width="1"/>
<text x="57.90" y="754.70" font-size="10" text-anchor="end" fill="#111" stroke="#111" stroke-width="0">40</text>
<line x1="61.5" y1="775.20" x2="65" y2="775.20" stroke="#8a8a8a" stroke-width="1"/>
<text x="57.90" y="779.40" font-size="10" text-anchor="end" fill="#111" stroke="#111" stroke-width="0">20</text>
<line x1="61.5" y1="800.00" x2="65" y2="800.00" stroke="#8a8a8a" stroke-width="1"/>
<text x="57.90" y="804.20" font-size="10" text-anchor="end" fill="#111" stroke="#111" stroke-width="0">0</text>
<text transform="translate(35.2,734.0) rotate(-90) scale(1,1)" font-size="11" text-anchor="middle" fill="#111" stroke="#111" stroke-width="0">Apoptotic cells %</text>
<text x="89.9" y="817.3" font-size="10" letter-spacing="0.15" text-anchor="middle" fill="#111" stroke="#111" stroke-width="0">CTR</text>
<text x="136.6" y="817.3" font-size="10" letter-spacing="0.15" text-anchor="middle" fill="#111" stroke="#111" stroke-width="0">PD</text>
<text x="181.7" y="817.3" font-size="10" letter-spacing="0.15" text-anchor="middle" fill="#111" stroke="#111" stroke-width="0">AS</text>
<text x="227.5" y="817.3" font-size="10" letter-spacing="0.15" text-anchor="middle" fill="#111" stroke="#111" stroke-width="0">PD+AS</text>
<rect x="70.6" y="681.5" width="85.0" height="29.5" fill="#fff" stroke="#666" stroke-width="1"/>
<rect x="75.80" y="687.20" width="6" height="6" fill="#dcdcdc" stroke="#333" stroke-width="0.8"/>
<text x="84" y="693.80" font-size="10.3" font-weight="bold" fill="#111" stroke="#111" stroke-width="0" letter-spacing="0">siRNA GFP</text>
<rect x="75.80" y="698.70" width="6" height="6" fill="#1e1e1e" stroke="#333" stroke-width="0.8"/>
<text x="84" y="705.30" font-size="10.3" font-weight="bold" fill="#111" stroke="#111" stroke-width="0" letter-spacing="0">siRNA TAp 73</text>
<line x1="324.5" y1="675.5" x2="510.4" y2="675.5" stroke="#c4c4c4" stroke-width="1"/>
<line x1="510.4" y1="675.5" x2="510.4" y2="800.5" stroke="#bcbcbc" stroke-width="1"/>
<line x1="340.20" y1="786.00" x2="340.20" y2="781.90" stroke="#666" stroke-width="0.9"/>
<line x1="338.60" y1="781.90" x2="341.80" y2="781.90" stroke="#666" stroke-width="0.9"/>
<rect x="334.00" y="786.50" width="12.40" height="14.00" fill="#dcdcdc" stroke="#707070" stroke-width="1"/>
<line x1="353.85" y1="784.80" x2="353.85" y2="781.50" stroke="#666" stroke-width="0.9"/>
<line x1="352.25" y1="781.50" x2="355.45" y2="781.50" stroke="#666" stroke-width="0.9"/>
<rect x="347.40" y="785.30" width="12.90" height="15.20" fill="#1e1e1e" stroke="#111" stroke-width="1"/>
<line x1="387.10" y1="780.20" x2="387.10" y2="776.20" stroke="#666" stroke-width="0.9"/>
<line x1="385.50" y1="776.20" x2="388.70" y2="776.20" stroke="#666" stroke-width="0.9"/>
<rect x="380.70" y="780.70" width="12.80" height="19.80" fill="#dcdcdc" stroke="#707070" stroke-width="1"/>
<line x1="400.75" y1="782.50" x2="400.75" y2="777.70" stroke="#666" stroke-width="0.9"/>
<line x1="399.15" y1="777.70" x2="402.35" y2="777.70" stroke="#666" stroke-width="0.9"/>
<rect x="394.50" y="783.00" width="12.50" height="17.50" fill="#1e1e1e" stroke="#111" stroke-width="1"/>
<line x1="433.85" y1="759.80" x2="433.85" y2="754.00" stroke="#666" stroke-width="0.9"/>
<line x1="432.25" y1="754.00" x2="435.45" y2="754.00" stroke="#666" stroke-width="0.9"/>
<rect x="427.60" y="760.30" width="12.50" height="40.20" fill="#dcdcdc" stroke="#707070" stroke-width="1"/>
<line x1="447.30" y1="769.00" x2="447.30" y2="764.20" stroke="#666" stroke-width="0.9"/>
<line x1="445.70" y1="764.20" x2="448.90" y2="764.20" stroke="#666" stroke-width="0.9"/>
<rect x="441.10" y="769.50" width="12.40" height="31.00" fill="#1e1e1e" stroke="#111" stroke-width="1"/>
<line x1="480.10" y1="737.30" x2="480.10" y2="730.00" stroke="#666" stroke-width="0.9"/>
<line x1="478.50" y1="730.00" x2="481.70" y2="730.00" stroke="#666" stroke-width="0.9"/>
<rect x="473.80" y="737.80" width="12.60" height="62.70" fill="#dcdcdc" stroke="#707070" stroke-width="1"/>
<line x1="493.65" y1="765.80" x2="493.65" y2="760.40" stroke="#666" stroke-width="0.9"/>
<line x1="492.05" y1="760.40" x2="495.25" y2="760.40" stroke="#666" stroke-width="0.9"/>
<rect x="487.40" y="766.30" width="12.50" height="34.20" fill="#1e1e1e" stroke="#111" stroke-width="1"/>
<line x1="324.5" y1="675.0" x2="324.5" y2="803.0" stroke="#8a8a8a" stroke-width="1.2"/>
<line x1="321.5" y1="800.5" x2="510.4" y2="800.5" stroke="#8a8a8a" stroke-width="1.2"/>
<line x1="370.6" y1="800.5" x2="370.6" y2="803.5" stroke="#8a8a8a" stroke-width="1"/>
<line x1="417" y1="800.5" x2="417" y2="803.5" stroke="#8a8a8a" stroke-width="1"/>
<line x1="463.3" y1="800.5" x2="463.3" y2="803.5" stroke="#8a8a8a" stroke-width="1"/>
<line x1="510.4" y1="800.5" x2="510.4" y2="803.5" stroke="#8a8a8a" stroke-width="1"/>
<line x1="321.0" y1="675.50" x2="324.5" y2="675.50" stroke="#8a8a8a" stroke-width="1"/>
<text x="317.00" y="679.70" font-size="10" text-anchor="end" fill="#111" stroke="#111" stroke-width="0">100</text>
<line x1="321.0" y1="700.30" x2="324.5" y2="700.30" stroke="#8a8a8a" stroke-width="1"/>
<text x="317.00" y="704.50" font-size="10" text-anchor="end" fill="#111" stroke="#111" stroke-width="0">80</text>
<line x1="321.0" y1="725.10" x2="324.5" y2="725.10" stroke="#8a8a8a" stroke-width="1"/>
<text x="317.00" y="729.30" font-size="10" text-anchor="end" fill="#111" stroke="#111" stroke-width="0">60</text>
<line x1="321.0" y1="750.30" x2="324.5" y2="750.30" stroke="#8a8a8a" stroke-width="1"/>
<text x="317.00" y="754.50" font-size="10" text-anchor="end" fill="#111" stroke="#111" stroke-width="0">40</text>
<line x1="321.0" y1="775.10" x2="324.5" y2="775.10" stroke="#8a8a8a" stroke-width="1"/>
<text x="317.00" y="779.30" font-size="10" text-anchor="end" fill="#111" stroke="#111" stroke-width="0">20</text>
<line x1="321.0" y1="800.20" x2="324.5" y2="800.20" stroke="#8a8a8a" stroke-width="1"/>
<text x="317.00" y="804.40" font-size="10" text-anchor="end" fill="#111" stroke="#111" stroke-width="0">0</text>
<text transform="translate(295.2,737.1) rotate(-90) scale(1,1)" font-size="9.9" text-anchor="middle" fill="#111" stroke="#111" stroke-width="0">% APOPTOTIC CELLS</text>
<text x="346.6" y="817.3" font-size="10" letter-spacing="0.15" text-anchor="middle" fill="#111" stroke="#111" stroke-width="0">CTR</text>
<text x="393.4" y="817.3" font-size="10" letter-spacing="0.15" text-anchor="middle" fill="#111" stroke="#111" stroke-width="0">PD</text>
<text x="439.7" y="817.3" font-size="10" letter-spacing="0.15" text-anchor="middle" fill="#111" stroke="#111" stroke-width="0">AS</text>
<text x="486.3" y="817.3" font-size="10" letter-spacing="0.15" text-anchor="middle" fill="#111" stroke="#111" stroke-width="0">PD+AS</text>
<rect x="329.2" y="681.2" width="85.40000000000003" height="29.199999999999932" fill="#fff" stroke="#666" stroke-width="1"/>
<rect x="334.60" y="686.60" width="6" height="6" fill="#dcdcdc" stroke="#333" stroke-width="0.8"/>
<text x="343.1" y="693.20" font-size="10.3" font-weight="bold" fill="#111" stroke="#111" stroke-width="0" letter-spacing="0">siRNA GFP</text>
<rect x="334.60" y="697.80" width="6" height="6" fill="#1e1e1e" stroke="#333" stroke-width="0.8"/>
<text x="343.1" y="704.40" font-size="10.3" font-weight="bold" fill="#111" stroke="#111" stroke-width="0" letter-spacing="0">siRNA TAp 73</text>
<text x="0.2" y="513.8" font-size="25" font-weight="bold" fill="#000">B</text>
<text x="0.5" y="578.5" font-size="24" font-weight="bold" fill="#000">i</text>
<text x="0.5" y="753.9" font-size="24" font-weight="bold" fill="#000">ii</text>
<g font-family='"Liberation Serif", serif' fill="#111">
<text transform="translate(114.6,540.2) rotate(-45)" font-size="14.7">pCDNA</text>
<text transform="translate(158.3,538.5) rotate(-45)" font-size="14.6">HA-p73α</text>
<line x1="128.9" y1="547.0" x2="189.2" y2="547.0" stroke="#555" stroke-width="1.1"/>
<text x="101.1" y="559.5" font-size="12" letter-spacing="0.45" text-anchor="end">siRNA GFP</text>
<text x="101.1" y="569.6" font-size="12" letter-spacing="0.45" text-anchor="end">siRNA TAp73</text>
<rect x="113.85" y="556.25" width="3.9" height="1.5" fill="#1a1a1a"/>
<rect x="136.85" y="556.25" width="3.9" height="1.5" fill="#1a1a1a"/>
<rect x="156.00" y="556.70" width="6.8" height="1" fill="#222"/>
<rect x="158.90" y="553.80" width="1" height="6.8" fill="#222"/>
<rect x="177.35" y="556.45" width="3.9" height="1.5" fill="#1a1a1a"/>
<rect x="114.05" y="566.75" width="3.9" height="1.5" fill="#1a1a1a"/>
<rect x="136.45" y="566.15" width="3.9" height="1.5" fill="#1a1a1a"/>
<rect x="158.05" y="566.05" width="3.9" height="1.5" fill="#1a1a1a"/>
<rect x="176.40" y="565.00" width="6.8" height="1" fill="#222"/>
<rect x="179.30" y="562.10" width="1" height="6.8" fill="#222"/>
<rect x="108.6" y="571.7" width="84.9" height="16.2" fill="#d9d9d9"/>
<path d="M131.2,583.2 C132,581.9 135,581.5 138,581.4 L146,581.2 C148.2,581.2 148.2,584.8 146,584.8 L138,584.7 C135,584.6 132,584.4 131.2,583.2 Z" fill="#111" filter="url(#bl2)"/>
<path d="M150.4,583.1 C150.6,581.6 152,581.2 155,581.1 L165.5,580.7 C168.6,580.7 168.6,585.2 165.5,585.2 L155,585.1 C152,585 150.6,584.6 150.4,583.1 Z" fill="#0c0c0c" filter="url(#bl2)"/>
<text x="115" y="599.5" font-size="14.4">IB anti-HA</text>
<line x1="194.6" y1="582.4" x2="199.2" y2="582.4" stroke="#222" stroke-width="1"/>
<text x="206.2" y="583.8" font-size="16.2" letter-spacing="0.3">HA-p73α</text>
<rect x="108.1" y="611.2" width="85.8" height="17.9" fill="#d3d3d3"/>
<rect x="112" y="619.8" width="78" height="2.4" fill="#222" filter="url(#bl2)"/>
<rect x="109.5" y="618.2" width="19.6" height="6.2" rx="3" fill="#0e0e0e" filter="url(#bl2)"/>
<rect x="129.6" y="618.4" width="19.8" height="6.4" rx="3.1" fill="#0e0e0e" filter="url(#bl2)"/>
<rect x="150.8" y="619.1" width="19.0" height="4.6" rx="2.3" fill="#141414" filter="url(#bl2)"/>
<rect x="170.3" y="617.3" width="21.6" height="5.9" rx="2.9" fill="#0e0e0e" filter="url(#bl2)"/>
<text x="109.3" y="642.2" font-size="14.6">IB anti-actin</text>
<line x1="196.3" y1="619.3" x2="201.5" y2="619.3" stroke="#222" stroke-width="1"/>
<text x="211.7" y="622.5" font-size="15.8">actin</text>
</g>
</svg></body></html>
